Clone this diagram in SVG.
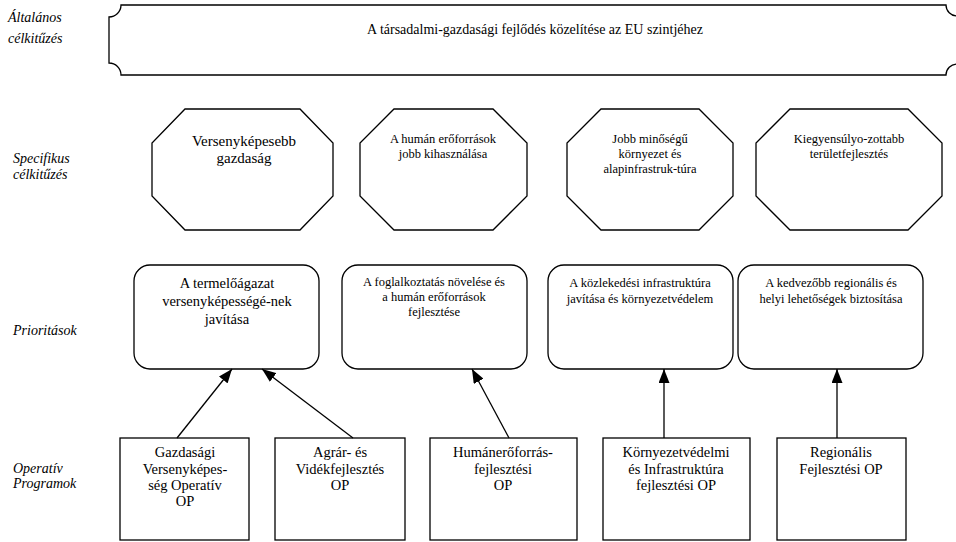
<svg xmlns="http://www.w3.org/2000/svg" width="956" height="542" viewBox="0 0 956 542">
<defs>
<style>
.shape{fill:#fff;stroke:#000;stroke-width:1.3}
.t{fill:#000;text-anchor:middle;font-family:'Liberation Serif','Times New Roman',serif}
.lbl{fill:#000;font-style:italic;font-size:14px;font-family:'Liberation Serif','Times New Roman',serif}
.conn{stroke:#000;stroke-width:1.3;fill:none;marker-end:url(#arr)}
</style>
<marker id="arr" markerUnits="userSpaceOnUse" markerWidth="14" markerHeight="11" refX="14" refY="5.5" orient="auto">
<path d="M0,0 L14,5.5 L0,11 Z" fill="#000"/>
</marker>
</defs>
<rect width="956" height="542" fill="#fff"/>

<g id="labels">
<text class="lbl" x="8" y="22">Általános</text>
<text class="lbl" x="8" y="43">célkitűzés</text>
<text class="lbl" x="13" y="163">Specifikus</text>
<text class="lbl" x="13" y="179">célkitűzés</text>
<text class="lbl" x="13" y="335">Prioritások</text>
<text class="lbl" x="13" y="473">Operatív</text>
<text class="lbl" x="13" y="488">Programok</text>
</g>

<g id="general">
<path class="shape" d="M121,5 H946 A11,11 0 0 0 957,16 V64 A11,11 0 0 0 946,75 H121 A12,12 0 0 0 109,63 V17 A12,12 0 0 0 121,5 Z"/>
<text class="t" x="535" y="34" font-size="14">A társadalmi-gazdasági fejlődés közelítése az EU szintjéhez</text>
</g>

<g id="spec1">
<polygon class="shape" points="185,109 300,109 333,143 333,196 300,230 185,230 152,196 152,143"/>
<text class="t" x="244" y="146" font-size="15">Versenyképesebb</text>
<text class="t" x="244" y="163" font-size="15">gazdaság</text>
</g>
<g id="spec2">
<polygon class="shape" points="394,109 493,109 527,143 527,196 493,230 394,230 360,196 360,143"/>
<text class="t" x="443" y="143" font-size="12.5">A humán erőforrások</text>
<text class="t" x="443" y="158" font-size="12.5">jobb kihasználása</text>
</g>
<g id="spec3">
<polygon class="shape" points="601,109 699,109 733,143 733,196 699,230 601,230 567,196 567,143"/>
<text class="t" x="650" y="143" font-size="12.5">Jobb minőségű</text>
<text class="t" x="650" y="158" font-size="12.5">környezet és</text>
<text class="t" x="650" y="173" font-size="12.5">alapinfrastruk-túra</text>
</g>
<g id="spec4">
<polygon class="shape" points="790,109 908,109 942,143 942,196 908,230 790,230 756,196 756,143"/>
<text class="t" x="849" y="143" font-size="12.5">Kiegyensúlyo-zottabb</text>
<text class="t" x="849" y="158" font-size="12.5">területfejlesztés</text>
</g>

<g id="prio1">
<rect class="shape" x="134" y="265" width="185" height="104" rx="16" ry="16"/>
<text class="t" x="227" y="288" font-size="14.5">A termelőágazat</text>
<text class="t" x="227" y="306" font-size="14.5">versenyképességé-nek</text>
<text class="t" x="227" y="324" font-size="14.5">javítása</text>
</g>
<g id="prio2">
<rect class="shape" x="342" y="265" width="185" height="104" rx="16" ry="16"/>
<text class="t" x="434" y="286" font-size="12.5">A foglalkoztatás növelése és</text>
<text class="t" x="434" y="301" font-size="12.5">a humán erőforrások</text>
<text class="t" x="434" y="316" font-size="12.5">fejlesztése</text>
</g>
<g id="prio3">
<rect class="shape" x="548" y="265" width="185" height="104" rx="16" ry="16"/>
<text class="t" x="640" y="287" font-size="12.5">A közlekedési infrastruktúra</text>
<text class="t" x="640" y="303" font-size="12.5">javítása és környezetvédelem</text>
</g>
<g id="prio4">
<rect class="shape" x="738" y="265" width="185" height="104" rx="16" ry="16"/>
<text class="t" x="831" y="287" font-size="12.5">A kedvezőbb regionális és</text>
<text class="t" x="831" y="303" font-size="12.5">helyi lehetőségek biztosítása</text>
</g>

<g id="op1">
<rect class="shape" x="120" y="438" width="129" height="102"/>
<text class="t" x="185" y="457" font-size="14.5">Gazdasági</text>
<text class="t" x="185" y="474" font-size="14.5">Versenyképes-</text>
<text class="t" x="185" y="490" font-size="14.5">ség Operatív</text>
<text class="t" x="185" y="506" font-size="14.5">OP</text>
</g>
<g id="op2">
<rect class="shape" x="275" y="438" width="130" height="102"/>
<text class="t" x="340" y="457" font-size="14.5">Agrár- és</text>
<text class="t" x="340" y="474" font-size="14.5">Vidékfejlesztés</text>
<text class="t" x="340" y="490" font-size="14.5">OP</text>
</g>
<g id="op3">
<rect class="shape" x="430" y="438" width="147" height="102"/>
<text class="t" x="503" y="457" font-size="14.5">Humánerőforrás-</text>
<text class="t" x="503" y="474" font-size="14.5">fejlesztési</text>
<text class="t" x="503" y="490" font-size="14.5">OP</text>
</g>
<g id="op4">
<rect class="shape" x="603" y="438" width="147" height="102"/>
<text class="t" x="676" y="457" font-size="14.5">Környezetvédelmi</text>
<text class="t" x="676" y="474" font-size="14.5">és Infrastruktúra</text>
<text class="t" x="676" y="490" font-size="14.5">fejlesztési OP</text>
</g>
<g id="op5">
<rect class="shape" x="777" y="438" width="129" height="102"/>
<text class="t" x="841" y="457" font-size="14.5">Regionális</text>
<text class="t" x="841" y="474" font-size="14.5">Fejlesztési OP</text>
</g>

<g id="connectors">
<line class="conn" x1="177" y1="438" x2="232" y2="369"/>
<line class="conn" x1="353" y1="438" x2="262" y2="369"/>
<line class="conn" x1="509" y1="438" x2="472" y2="369"/>
<line class="conn" x1="664" y1="438" x2="664" y2="369"/>
<line class="conn" x1="837" y1="438" x2="837" y2="369"/>
</g>
</svg>
